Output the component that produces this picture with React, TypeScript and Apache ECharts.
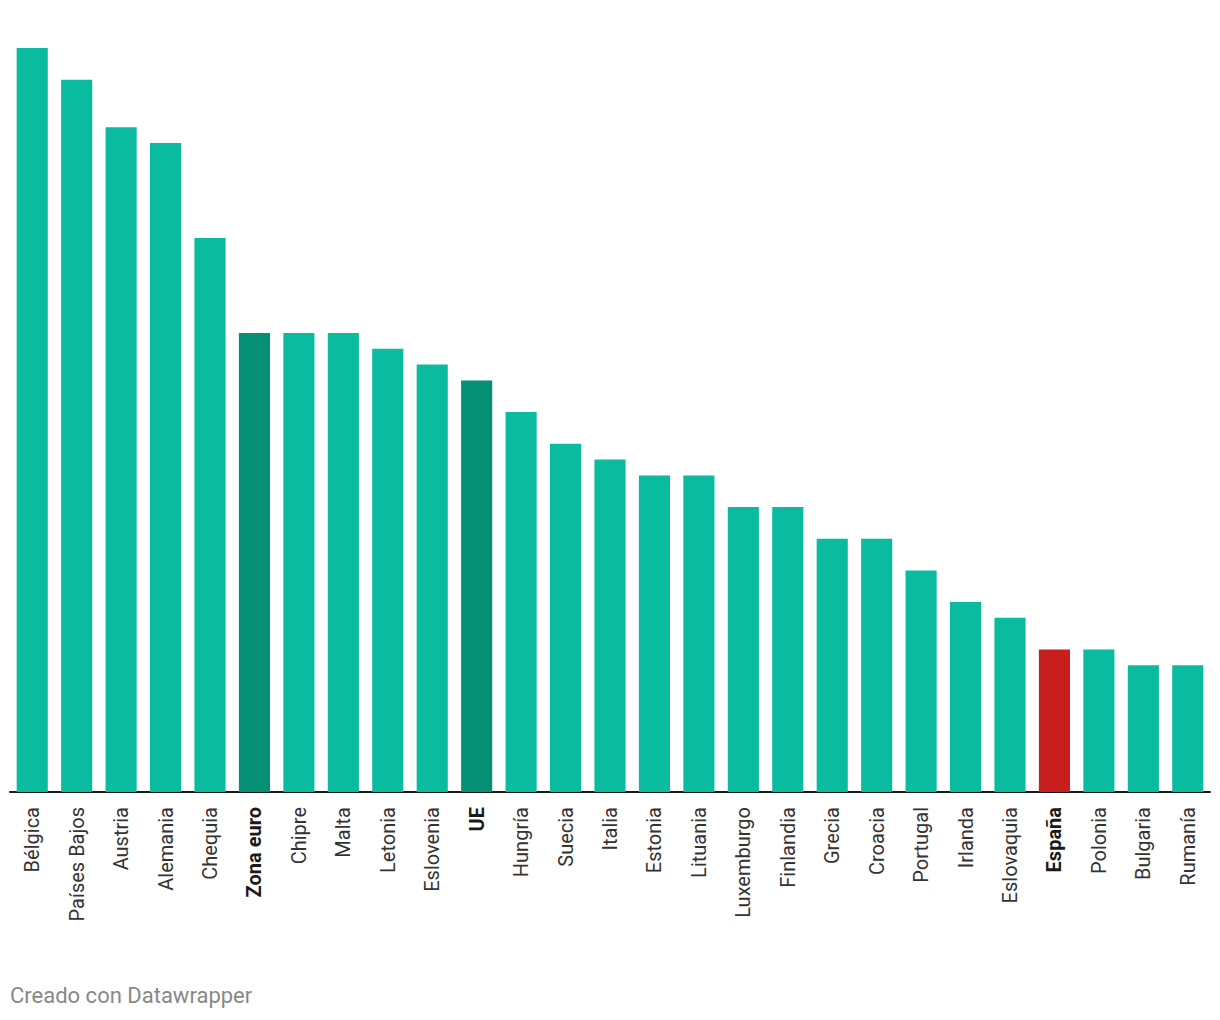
import React, { useEffect, useRef } from "react";
import * as echarts from "echarts";

const categories = [
  "Bélgica", "Países Bajos", "Austria", "Alemania", "Chequia", "Zona euro", "Chipre", "Malta",
  "Letonia", "Eslovenia", "UE", "Hungría", "Suecia", "Italia", "Estonia", "Lituania",
  "Luxemburgo", "Finlandia", "Grecia", "Croacia", "Portugal", "Irlanda", "Eslovaquia",
  "España", "Polonia", "Bulgaria", "Rumanía",
];
const values = [
  4.7, 4.5, 4.2, 4.1, 3.5, 2.9, 2.9, 2.9, 2.8, 2.7, 2.6, 2.4, 2.2, 2.1, 2.0, 2.0,
  1.8, 1.8, 1.6, 1.6, 1.4, 1.2, 1.1, 0.9, 0.9, 0.8, 0.8,
];
const aggregates = ["Zona euro", "UE"];
const highlighted = ["España"];
const footerText = "Creado con Datawrapper";

const COLOR_DEFAULT = "#0bbba0";
const COLOR_AGG = "#058f74";
const COLOR_HIGHLIGHT = "#c81e1e";

export default function App() {
  const ref = useRef<HTMLDivElement>(null);
  useEffect(() => {
    if (!ref.current) return;
    const chart = echarts.init(ref.current, undefined, { renderer: "svg" });
    const colorFor = (c: string) =>
      highlighted.includes(c) ? COLOR_HIGHLIGHT : aggregates.includes(c) ? COLOR_AGG : COLOR_DEFAULT;
    const isBold = (c: string) => highlighted.includes(c) || aggregates.includes(c);
    chart.setOption({
      animation: false,
      backgroundColor: "#ffffff",
      textStyle: { fontFamily: "Roboto, sans-serif" },
      grid: { left: 10, right: 10, top: 48, bottom: 228, containLabel: false },
      xAxis: {
        type: "category",
        data: categories.map((c) => ({
          value: c,
          textStyle: isBold(c) ? { fontWeight: "bold", color: "#1a1a1a" } : {},
        })),
        axisLine: { show: true, lineStyle: { color: "#1a1a1a", width: 2 } },
        axisTick: { show: false },
        axisLabel: {
          rotate: 90,
          interval: 0,
          fontSize: 20,
          color: "#333333",
          margin: 15,
          fontFamily: "Roboto, sans-serif",
        },
      },
      yAxis: {
        type: "value",
        min: 0,
        max: 4.7,
        show: false,
        splitLine: { show: false },
      },
      series: [
        {
          type: "bar",
          barCategoryGap: "30%",
          data: categories.map((c, i) => ({
            value: values[i],
            itemStyle: { color: colorFor(c) },
          })),
          label: { show: false },
        },
      ],
      graphic: [
        {
          type: "text",
          left: 10,
          top: 984,
          style: {
            text: footerText,
            fontSize: 22,
            fill: "#888888",
            fontFamily: "Roboto, sans-serif",
          },
        },
      ],
    });
    return () => chart.dispose();
  }, []);
  return (
    <div
      ref={ref}
      style={{ position: "absolute", left: 0, top: 0, width: 1220, height: 1020 }}
    />
  );
}
